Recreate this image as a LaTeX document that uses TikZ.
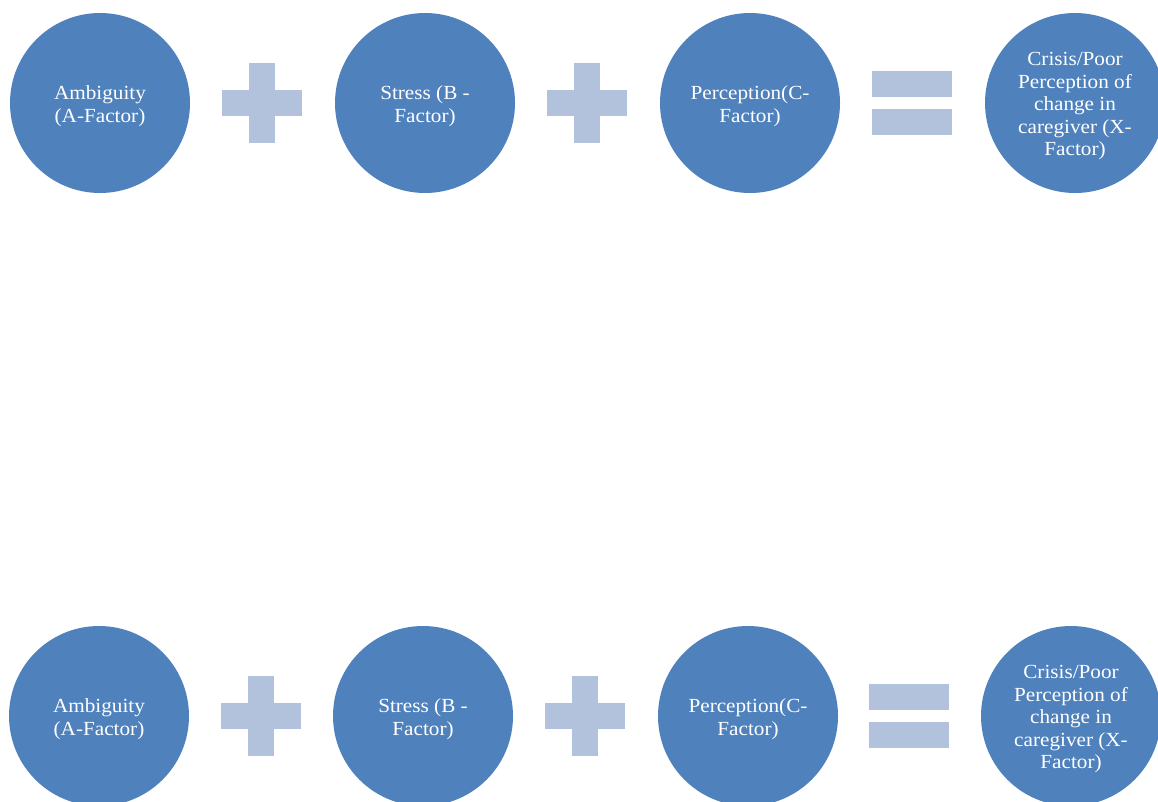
\documentclass[tikz,border=0pt]{standalone}
\usepackage{fontspec}
\setmainfont[FakeStretch=1.06]{Liberation Serif}
\usepackage{tikz}
\usetikzlibrary{positioning}

\definecolor{circblue}{HTML}{4F81BD}
\definecolor{oplight}{HTML}{B2C2DD}
\newcommand{\factorstrut}{\rule{0pt}{20pt}}

\begin{document}
\begin{tikzpicture}[
    x=1pt, y=-1pt,
    factor/.style={circle, fill=circblue, minimum size=180pt, inner sep=0pt, align=center,
        text=white, font=\fontsize{20}{22.5}\selectfont},
    hbar/.style={rectangle, fill=oplight, minimum width=80pt, minimum height=26pt, inner sep=0pt},
    vbar/.style={rectangle, fill=oplight, minimum width=26pt, minimum height=80pt, inner sep=0pt}
    ]
    \useasboundingbox (0,0) rectangle (1158,801);
    \clip (0,0) rectangle (1158,801);

    % Top row
    \node[factor] (ambA) at (100,103) {\factorstrut Ambiguity\\(A-Factor)};
    \node[hbar] (plusAh) at (262,103) {};
    \node[vbar] (plusAv) at (262,103) {};
    \node[factor] (stressA) at (425,103) {\factorstrut Stress (B -\\Factor)};
    \node[hbar] (plusBh) at (587,103) {};
    \node[vbar] (plusBv) at (587,103) {};
    \node[factor] (percA) at (750,103) {\factorstrut Perception(C-\\Factor)};
    \node[hbar] (eqAtop) at (912,84) {};
    \node[hbar] (eqAbot) at (912,122) {};
    \node[factor] (crisisA) at (1075,103) {\factorstrut Crisis/Poor\\Perception of\\change in\\caregiver (X-\\Factor)};

    % Bottom row
    \node[factor] (ambB) at (99,716) {\factorstrut Ambiguity\\(A-Factor)};
    \node[hbar] (plusCh) at (261,716) {};
    \node[vbar] (plusCv) at (261,716) {};
    \node[factor] (stressB) at (423,716) {\factorstrut Stress (B -\\Factor)};
    \node[hbar] (plusDh) at (585,716) {};
    \node[vbar] (plusDv) at (585,716) {};
    \node[factor] (percB) at (748,716) {\factorstrut Perception(C-\\Factor)};
    \node[hbar] (eqBtop) at (909,697) {};
    \node[hbar] (eqBbot) at (909,735) {};
    \node[factor] (crisisB) at (1071,716) {\factorstrut Crisis/Poor\\Perception of\\change in\\caregiver (X-\\Factor)};

\end{tikzpicture}
\end{document}
